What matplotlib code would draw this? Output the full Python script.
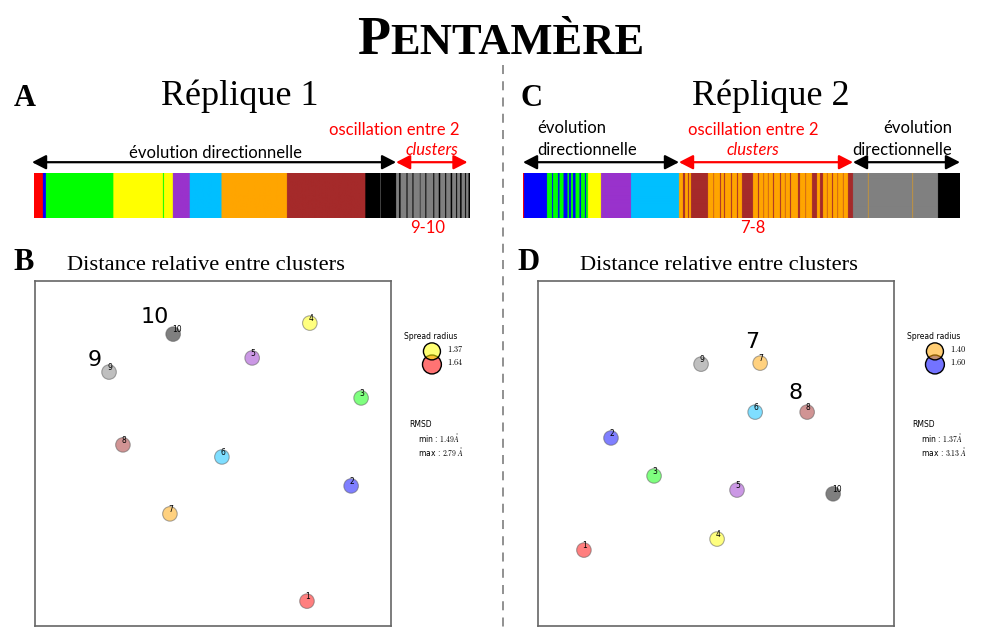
import matplotlib
matplotlib.use("Agg")
import matplotlib.pyplot as plt
import numpy as np
from matplotlib.colors import ListedColormap
from matplotlib.lines import Line2D

plt.rcParams["mathtext.fontset"] = "cm"

# couleurs des clusters 1..10
CLUSTER_COLORS = ["red", "blue", "lime", "yellow", "darkorchid",
                  "deepskyblue", "orange", "brown", "gray", "black"]

# replique 1 : suite des clusters (codage par plages) et nb de frames
REP1_CLUSTERS = [1, 2, 3, 4, 3, 4, 5, 6, 7, 8, 10, 9, 10,
                 9, 10, 9, 10, 9, 10, 9, 10, 9, 10, 9, 10, 9, 10,
                 9, 10, 9, 10, 9, 10, 9, 10, 9, 10, 9, 10]
REP1_LENGTHS = [18, 6, 136, 100, 2, 18, 34, 64, 132, 158, 30, 1, 31,
                6, 3, 12, 2, 10, 2, 13, 1, 10, 2, 14, 2, 9, 3,
                10, 2, 9, 3, 8, 2, 6, 3, 7, 2, 5, 3]
REP1_PHASES = [0, 730, 874]

# replique 2
REP2_CLUSTERS = [1, 2,
                 3, 2, 3, 2, 3, 2, 3, 2, 3, 2, 3, 2, 3, 2, 3,
                 4, 5, 6,
                 7, 8, 7, 8, 7, 8, 7, 8, 7, 8, 7, 8, 7, 8, 7, 8, 7, 8,
                 7, 8, 7, 8, 7, 8, 7, 8, 7, 8, 7, 8, 7, 8, 7, 8, 7, 8,
                 7, 8, 7, 8, 7, 8, 7, 8, 7, 8, 7, 8, 7, 8,
                 9, 7, 9, 7, 9, 10]
REP2_LENGTHS = [2, 46,
                10, 2, 10, 3, 8, 8, 3, 4, 4, 5, 8, 3, 8, 2, 4,
                26, 60, 96,
                8, 4, 6, 2, 4, 34, 11, 1, 12, 2, 6, 2, 12, 2, 10, 2, 8, 22,
                10, 2, 9, 1, 8, 1, 9, 2, 12, 2, 8, 1, 9, 2, 14, 4, 11, 1,
                12, 10, 6, 6, 8, 1, 9, 2, 9, 1, 10, 1, 9, 10,
                30, 1, 88, 1, 50, 44]
REP2_PHASES = [0, 312, 660, 874]

# positions relatives des clusters (distance relative)
REP1_X = [0.764, 0.888, 0.916, 0.772, 0.610, 0.525, 0.379, 0.247, 0.208, 0.388]
REP1_Y = [0.072, 0.406, 0.661, 0.878, 0.777, 0.490, 0.325, 0.525, 0.736, 0.846]
REP2_X = [0.129, 0.205, 0.326, 0.503, 0.559, 0.610, 0.624, 0.756, 0.458, 0.829]
REP2_Y = [0.220, 0.545, 0.435, 0.252, 0.394, 0.620, 0.762, 0.620, 0.759, 0.383]

REP1_SPREAD = [1.37, 1.64]
REP1_SPREAD_CLUSTERS = [4, 1]
REP2_SPREAD = [1.40, 1.60]
REP2_SPREAD_CLUSTERS = [7, 2]
REP1_RMSD = [1.49, 2.79]
REP2_RMSD = [1.37, 3.13]

W, H = 984, 631
SANS = "Lato"
SERIF = "Liberation Serif"


def rect(l, t, w, h):
    return [l / W, 1 - (t + h) / H, w / W, h / H]


fig = plt.figure(figsize=(W / 100, H / 100), dpi=100)
cmap = ListedColormap(CLUSTER_COLORS)


def barcode(r, clusters, lengths):
    ax = fig.add_axes(r)
    frames = np.repeat(np.array(clusters) - 1, lengths)
    ax.imshow(frames[np.newaxis, :], cmap=cmap, vmin=-0.5, vmax=9.5,
              aspect="auto", extent=(0, len(frames), 0, 1))
    ax.set_xlim(0, len(frames))
    ax.set_ylim(0, 1)
    ax.axis("off")
    return ax


def phase_arrow(ax, x0, x1, color):
    ax.annotate("", xy=(x1, 1.24), xytext=(x0, 1.24),
                xycoords=("data", "axes fraction"),
                arrowprops=dict(arrowstyle="<|-|>,head_length=0.7,head_width=0.36",
                                color=color, lw=1.6, shrinkA=0, shrinkB=0,
                                mutation_scale=12))


def label(ax, x, y, s, color="black", ha="center", style="normal"):
    ax.text(x, y, s, transform=ax.get_xaxis_transform(), ha=ha, va="center",
            color=color, fontsize=12, family=SANS, style=style, clip_on=False)


# ---- A : replique 1
axA = barcode(rect(34, 173, 436, 45), REP1_CLUSTERS, REP1_LENGTHS)
p0, p1, p2 = REP1_PHASES
phase_arrow(axA, p0 - 4, p1, "black")
phase_arrow(axA, p1, p2, "red")
label(axA, (p0 + p1) / 2, 1.44, "évolution directionnelle")
label(axA, p2 - 16, 1.96, "oscillation entre 2", color="red", ha="right")
label(axA, p2 - 18, 1.51, "clusters", color="red", style="italic", ha="right")
label(axA, (p1 + p2) / 2 - 8, -0.22, "9-10", color="red")

# ---- C : replique 2
axC = barcode(rect(523, 173, 437, 45), REP2_CLUSTERS, REP2_LENGTHS)
q0, q1, q2, q3 = REP2_PHASES
mid = (q1 + q2) / 2 - 26
phase_arrow(axC, q0, q1, "black")
phase_arrow(axC, q1, q2, "red")
phase_arrow(axC, q2, q3, "black")
label(axC, q0 + 28, 1.99, "évolution", ha="left")
label(axC, q0 + 28, 1.51, "directionnelle", ha="left")
label(axC, mid, 1.96, "oscillation entre 2", color="red")
label(axC, mid, 1.51, "clusters", color="red", style="italic")
label(axC, q3 - 16, 1.99, "évolution", ha="right")
label(axC, q3 - 16, 1.51, "directionnelle", ha="right")
label(axC, mid, -0.22, "7-8", color="red")


# ---- B / D : distance relative
def cluster_map(r, xs, ys, big, offsets, spread, spread_cl, rmsd):
    ax = fig.add_axes(r)
    ids = np.arange(1, len(xs) + 1)
    ax.scatter(xs, ys, s=110, c=[CLUSTER_COLORS[i - 1] for i in ids],
               alpha=0.5, edgecolors="#555555", linewidths=0.8, zorder=2)
    for i, x, y in zip(ids, xs, ys):
        ax.annotate(str(i), (x, y), xytext=(-1, 3), textcoords="offset points",
                    fontsize=5.5, ha="left", va="center", zorder=3)
    for i, off in zip(big, offsets):
        ax.annotate(str(i), (xs[i - 1], ys[i - 1]), xytext=off,
                    textcoords="offset points", fontsize=16, ha="center",
                    va="center", family="DejaVu Sans")
    ax.set_xlim(0, 1)
    ax.set_ylim(0, 1)
    ax.set_xticks([])
    ax.set_yticks([])
    for sp in ax.spines.values():
        sp.set_color("#666666")
        sp.set_linewidth(1.2)
    # legende
    ax.text(1.112, 0.838, "Spread radius", transform=ax.transAxes,
            fontsize=5.5, ha="center", va="center")
    ly = [0.796, 0.758]
    sz = [150, 185]
    for k in [1, 0]:
        ax.scatter([1.115], [ly[k]], s=sz[k], transform=ax.transAxes,
                   c=CLUSTER_COLORS[spread_cl[k] - 1], alpha=0.55,
                   edgecolors="none", clip_on=False)
        ax.scatter([1.115], [ly[k]], s=sz[k], transform=ax.transAxes,
                   facecolors="none", edgecolors="black", linewidths=1.0,
                   clip_on=False)
        ax.text(1.157, ly[k] + 0.006, "$%.2f$" % spread[k], transform=ax.transAxes,
                fontsize=6, ha="left", va="center")
    ax.text(1.051, 0.583, "RMSD", transform=ax.transAxes, fontsize=5.5,
            ha="left", va="center")
    ax.text(1.076, 0.545, "min : $%.2f\\AA$" % rmsd[0], transform=ax.transAxes,
            fontsize=5.5, ha="left", va="center")
    ax.text(1.076, 0.507, "max : $%.2f\\ \\AA$" % rmsd[1], transform=ax.transAxes,
            fontsize=5.5, ha="left", va="center")
    return ax


cluster_map(rect(35, 281, 356, 345), REP1_X, REP1_Y, [10, 9],
            [(-13, 12), (-10, 9)], REP1_SPREAD, REP1_SPREAD_CLUSTERS, REP1_RMSD)
cluster_map(rect(538, 281, 356, 345), REP2_X, REP2_Y, [7, 8],
            [(-6, 15), (-8, 14)], REP2_SPREAD, REP2_SPREAD_CLUSTERS, REP2_RMSD)


# ---- textes de la figure
def ftext(x, y, s, **kw):
    return fig.text(x / W, 1 - y / H, s, **kw)


for x, y, s in [(25, 98, "A"), (24, 263, "B"), (532, 98, "C"), (528, 263, "D")]:
    ftext(x, y, s, fontsize=22, family=SERIF, weight="bold", ha="center", va="center")
ftext(240, 96, "Réplique 1", fontsize=26, family=SERIF, ha="center", va="center")
ftext(771, 96, "Réplique 2", fontsize=26, family=SERIF, ha="center", va="center")
ftext(206, 265, "Distance relative entre clusters", fontsize=16.2, family=SERIF,
      ha="center", va="center")
ftext(719, 265, "Distance relative entre clusters", fontsize=16.2, family=SERIF,
      ha="center", va="center")

# titre en petites capitales
tp = ftext(0, 54, "P", fontsize=39, family=SERIF, weight="bold", va="baseline")
tr = ftext(0, 54, "ENTAMÈRE", fontsize=32, family=SERIF, weight="bold", va="baseline")
rend = fig.canvas.get_renderer()
wp = tp.get_window_extent(rend).width / W
wr = tr.get_window_extent(rend).width / W
x0 = 501 / W - (wp + wr) / 2
tp.set_x(x0)
tr.set_x(x0 + wp)

# separation verticale
fig.add_artist(Line2D([503 / W, 503 / W], [1 - 65 / H, 0], color="#888888",
                      lw=1.3, ls=(0, (5, 4))))

fig.savefig("out.png", dpi=100)
